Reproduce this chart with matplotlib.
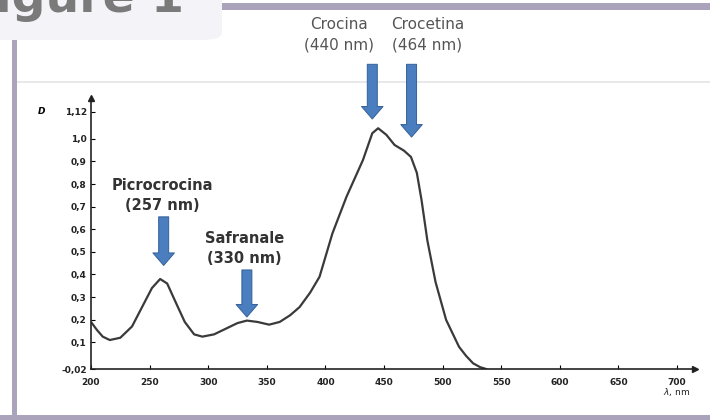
import matplotlib
matplotlib.use("Agg")
from matplotlib import pyplot as plt
from matplotlib.patches import Rectangle, FancyBboxPatch

# spectrum (wavelength nm, optical density D)
wavelength = [200, 205, 210, 216, 225, 235, 245, 252, 259, 265, 272, 280, 288, 295,
              305, 315, 325, 333, 342, 352, 361, 370, 378, 387, 395, 406, 418, 432,
              440, 445, 452, 459, 467, 473, 478, 482, 487, 494, 503, 514, 520, 526,
              532, 537]
density = [0.19, 0.155, 0.125, 0.11, 0.12, 0.17, 0.27, 0.34, 0.38, 0.36, 0.28, 0.19,
           0.135, 0.125, 0.135, 0.16, 0.185, 0.196, 0.19, 0.178, 0.19, 0.22, 0.256,
           0.32, 0.39, 0.582, 0.744, 0.906, 1.025, 1.047, 1.018, 0.973, 0.948, 0.92,
           0.85, 0.73, 0.55, 0.366, 0.199, 0.08, 0.04, 0.007, -0.01, -0.018]

x_ticks = [200, 250, 300, 350, 400, 450, 500, 550, 600, 650, 700]
y_ticks = [-0.02, 0.1, 0.2, 0.3, 0.4, 0.5, 0.6, 0.7, 0.8, 0.9, 1.0, 1.12]
y_labels = ["-0,02", "0,1", "0,2", "0,3", "0,4", "0,5", "0,6", "0,7", "0,8", "0,9", "1,0", "1,12"]

# (name, wavelength label, arrow x, arrow top, arrow tip, text x, text y)
peaks = [
    ("Picrocrocina", "(257 nm)", 262, 0.655, 0.44, 261, 0.795),
    ("Safranale", "(330 nm)", 333, 0.42, 0.212, 331, 0.56),
    ("Crocina", "(440 nm)", 440, 1.33, 1.088, 412, 1.505),
    ("Crocetina", "(464 nm)", 473.5, 1.33, 1.008, 487, 1.505),
]

W, H = 710, 420
fig = plt.figure(figsize=(W / 100, H / 100), dpi=100)


def fx(px):
    return px / W


def fy(py):
    return 1 - py / H


# slide frame around the picture (kept behind the chart)
frame = dict(color="#aaa3bb", lw=0, zorder=-5)
fig.add_artist(Rectangle((fx(17), fy(83)), fx(700), 2 / H, color="#e8e8ea", lw=0, zorder=-5))
fig.add_artist(Rectangle((fx(12), fy(420)), 5 / W, 380 / H, **frame))
fig.add_artist(Rectangle((0, 0), 1, 5 / H, **frame))
fig.add_artist(Rectangle((fx(215), fy(10)), fx(500), 7 / H, **frame))
fig.add_artist(FancyBboxPatch((fx(-20), fy(40)), fx(242), 60 / H,
                              boxstyle="round,pad=0,rounding_size=0.03",
                              fc="#f4f3f8", ec="none", mutation_aspect=H / W, zorder=-4))
fig.text(fx(184), fy(12), "Figure 1", fontsize=34, color="#7a7a7a",
         ha="right", va="baseline", fontweight="bold", zorder=-3)

ax = fig.add_axes([fx(91), fy(369.4), fx(603.6), (369.4 - 98.2) / H])
ax.patch.set_alpha(0)
ax.plot(wavelength, density, color="#3a3a3a", lw=1.6, solid_joinstyle="round")

ax.set_xlim(200, 715)
ax.set_ylim(-0.02, 1.18)
ax.set_xticks(x_ticks)
ax.set_yticks(y_ticks)
ax.set_yticklabels(y_labels)
ax.tick_params(direction="in", length=3, width=0.8, labelsize=6.5,
               labelcolor="#222222", pad=3)
ax.tick_params(axis="x", pad=6)
for lab in ax.get_xticklabels() + ax.get_yticklabels():
    lab.set_fontweight("bold")
for s in ["top", "right"]:
    ax.spines[s].set_visible(False)
for s in ["left", "bottom"]:
    ax.spines[s].set_linewidth(1.2)
    ax.spines[s].set_color("#222222")
ax.plot(1, 0, ">", color="#222222", ms=5, transform=ax.transAxes, clip_on=False)
ax.plot(0, 1, "^", color="#222222", ms=5, transform=ax.transAxes, clip_on=False)

ax.text(-0.075, 1.12, "D", transform=ax.get_yaxis_transform(), fontsize=6.5,
        style="italic", fontweight="bold", va="center", ha="right")
fig.text(fx(690), fy(392), r"$\lambda$, nm", fontsize=6.5, ha="right",
         va="center", color="#222222")

for name, nm, ax_x, top, tip, tx, ty in peaks:
    ax.annotate("", xy=(ax_x, tip), xytext=(ax_x, top), annotation_clip=False,
                arrowprops=dict(arrowstyle="simple,head_length=0.9,head_width=1.55,tail_width=0.72",
                                mutation_scale=10, fc="#4a7ebf", ec="#35609a", lw=0.7,
                                shrinkA=0, shrinkB=0))
    upper = name in ("Crocina", "Crocetina")
    style = dict(fontsize=11, color="#555555") if upper else \
        dict(fontsize=10.5, color="#333333", fontweight="bold")
    ax.text(tx, ty, name, ha="center", va="center", clip_on=False, **style)
    ax.text(tx, ty - 0.09, nm, ha="center", va="center", clip_on=False, **style)

fig.savefig("out.png", dpi=100)
